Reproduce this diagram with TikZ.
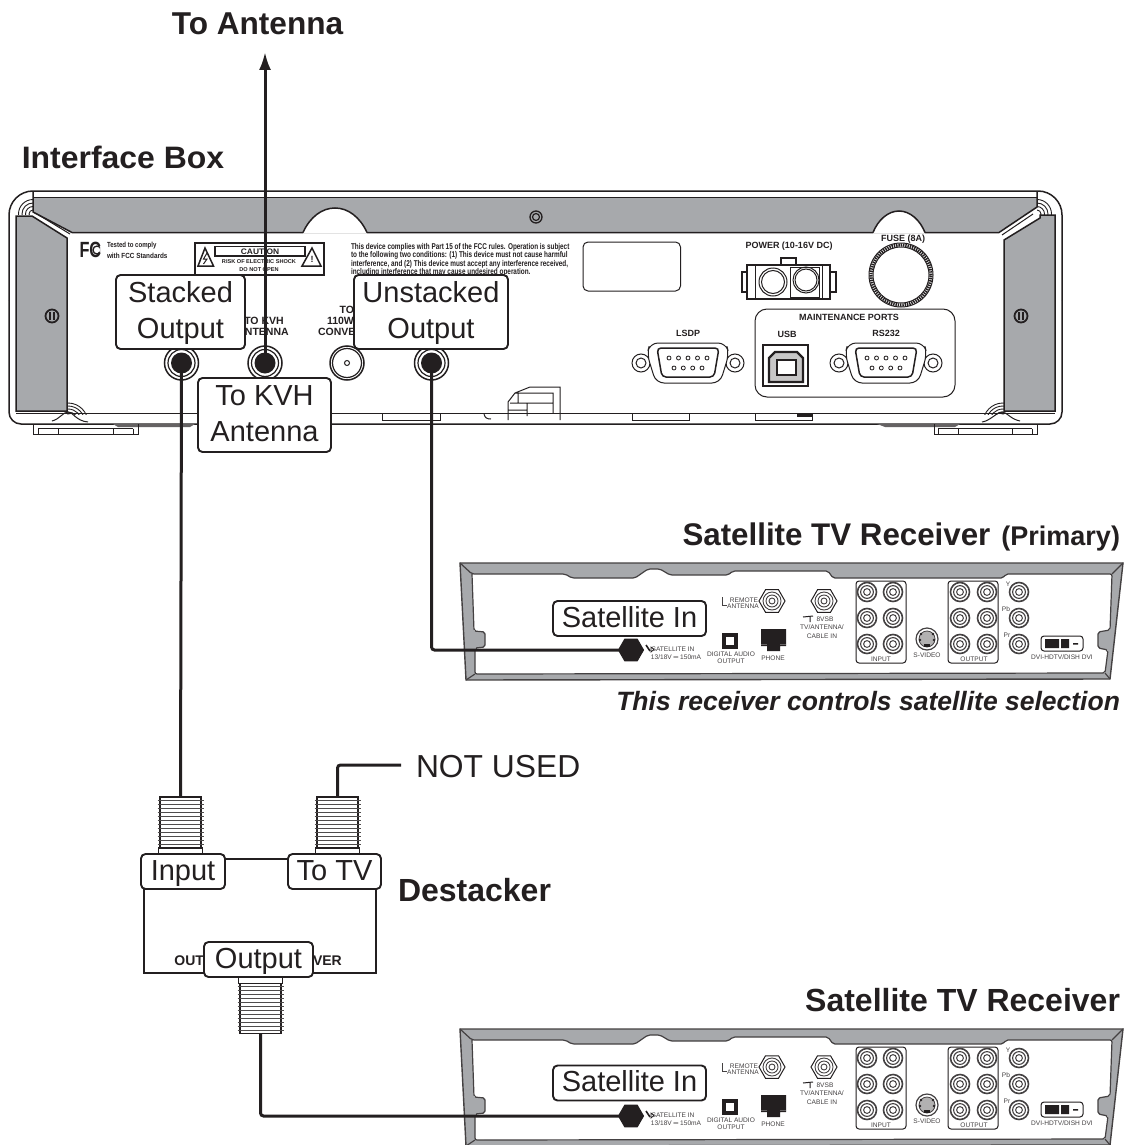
\documentclass[tikz,border=0pt]{standalone}
\usepackage{fontspec}
\usepackage{graphicx}
\setmainfont{Liberation Sans}
\usetikzlibrary{arrows.meta,shapes.geometric}
\definecolor{ink}{HTML}{231F20}
\definecolor{band}{HTML}{A7A9AC}
\newcommand\fs[1]{\fontsize{#1}{#1}\selectfont}
\newcommand\nrw[1]{\scalebox{.76}[1]{#1}}
\newcommand\lowr[1]{\raisebox{-1.5pt}[\height][\depth]{\begin{tabular}{@{}c@{}}#1\end{tabular}}}
\tikzset{
 x=1pt,y=-1pt,
 every node/.style={text=ink,inner sep=0pt,outer sep=0pt},
 wire/.style={draw=ink,line width=3pt},
 thin line/.style={draw=ink,line width=1pt},
 mid line/.style={draw=ink,line width=1.5pt},
 lbl/.style={draw=ink,fill=white,line width=1.9pt,rounded corners=4.5pt,align=center,
   font=\fontsize{29}{35.7}\selectfont},
 lbl one/.style={lbl,text height=23pt,text depth=6pt},
 tiny/.style={font=\fontsize{6.6}{7}\selectfont,text=ink!85},
 panel/.style={font=\fontsize{8.4}{9}\selectfont\bfseries},
 captxt/.style={font=\fontsize{9}{9}\selectfont\bfseries},
 jackcap/.style={font=\fontsize{10.5}{10.5}\selectfont\bfseries},
 port/.style={circle,draw=ink,line width=1.5pt,fill=white,minimum size=34pt},
 hexport/.style={regular polygon,regular polygon sides=6,draw=ink,line width=1pt,fill=white,minimum size=#1},
 thread/.style={rectangle,draw=ink,line width=1.5pt,fill=white,minimum width=41pt,minimum height=51pt},
 collar/.style={rectangle,draw=ink,line width=1.5pt,fill=white,minimum width=44pt,minimum height=7pt},
}
% concentric RCA jack
\newcommand\rcaj[2]{%
 \draw[ink!85,line width=1.6pt] (#1,#2) circle (9.5pt);
 \draw[ink!85,line width=1.1pt] (#1,#2) circle (6.4pt);
 \draw[ink!85,line width=1pt] (#1,#2) circle (3.4pt);}
% D-sub 9 connector
\newcommand\dbnine[3]{%
 \begin{scope}[shift={(#1,#2)}]
 \draw[thin line,fill=white] (-47,0) circle (9pt);
 \draw[thin line,fill=white] (47,0) circle (9pt);
 \draw[thin line] (-47,0) circle (5pt);
 \draw[thin line] (47,0) circle (5pt);
 \draw[thin line,fill=white,rounded corners=8pt] (-38,-20) -- (38,-20) -- (41,-9) -- (32,20) -- (-32,20) -- (-41,-9) -- cycle;
 \draw[mid line,rounded corners=4pt] (-31,-15) -- (31,-15) -- (26,14) -- (-26,14) -- cycle;
 \foreach \p in {-19,-9.5,0,9.5,19}{\draw[line width=.8pt,ink] (\p,-5) circle (2pt);}
 \foreach \p in {-14,-4.7,4.7,14}{\draw[line width=.8pt,ink] (\p,5) circle (2pt);}
 \node[captxt] (#3) at (0,-29.5) {#3};
 \end{scope}}
% threaded F connector body
\newcommand\threads[3]{%
 \foreach \k in {0,...,11}{\draw[ink!80,line width=.8pt] (#1-23,#2+3+\k*4) -- (#1+23,#2+3+\k*4);}}
% satellite receiver back panel
\newcommand\rcvr[2]{%
 \begin{scope}[shift={(0,#1)}]
 \fill[band,even odd rule] (460,563) -- (1123,563) -- (1110,679) -- (466,680) -- cycle
  (472,574) -- (565,574) -- (572,578) -- (635,578) -- (648,569) -- (660,569) -- (670,575) -- (728,575) -- (733,571) -- (828,571) -- (833,578) -- (1003,578) -- (1006,574) -- (1112,574) -- (1110,630) -- (1098,632) -- (1098,648) -- (1108,650) -- (1105,673) -- (475,674) -- (475,648) -- (485,647) -- (485,632) -- (474,631) -- cycle;
 \draw[ink!85,line width=1.4pt] (460,563) -- (1123,563) -- (1110,679) -- (466,680) -- cycle;
 \draw[ink!85,line width=1.2pt,rounded corners=2pt] (460,563) -- (472,574) -- (565,574) -- (572,578) -- (635,578) -- (648,569) -- (660,569) -- (670,575) -- (728,575) -- (733,571) -- (828,571) -- (833,578) -- (1003,578) -- (1006,574) -- (1112,574) -- (1110,630) -- (1098,632) -- (1098,648) -- (1108,650) -- (1105,673) -- (475,674) -- (475,648) -- (485,647) -- (485,632) -- (474,631) -- (472,574);
 \draw[ink!85,line width=1.2pt] (1112,574) -- (1123,563) (1105,673) -- (1110,679) (475,674) -- (466,680);
 % coax hexes
 \node[hexport=26pt,fill=white] (rem#2) at (772,601) {};
 \node[hexport=26pt,fill=white] (vsb#2) at (824,601) {};
 \foreach \c in {772,824}{\foreach \r in {9,6,3}{\draw[ink!85,line width=.9pt] (\c,601) circle (\r pt);}}
 \node[hexport=25pt,fill=ink] (sat#2) at (631,650) {};
 \node[tiny] (a#2) at (673,649) {SATELLITE IN};
 \node[tiny] (b#2) at (676,657) {13/18V ═ 150mA};
 \draw[ink,line width=1.6pt] (646,645) -- (650,651);
 \draw[ink,line width=.7pt] (651,647) -- (654,649.5) -- (651,652) -- cycle;
 \node[tiny] (c#2) at (744,600) {REMOTE};
 \node[tiny] (d#2) at (743,606.5) {ANTENNA};
 \draw[ink!85,line width=.8pt] (722,597) -- (722,605) -- (727,605);
 \node[tiny] (e#2) at (825,619) {8VSB};
 \node[tiny] (f#2) at (822,627.5) {TV/ANTENNA/};
 \node[tiny] (g#2) at (822,636) {CABLE IN};
 \draw[ink,line width=1pt] (803,617) -- (813,616) (810,616) -- (810,622);
 \fill[ink] (722,633) rectangle (738,649);
 \fill[white] (726,637) rectangle (734,645);
 \node[tiny] (h#2) at (731,654.5) {DIGITAL AUDIO};
 \node[tiny] (i#2) at (731,661) {OUTPUT};
 \fill[ink] (761,629) -- (786,629) -- (786,646) -- (780,646) -- (780,651) -- (767,651) -- (767,646) -- (761,646) -- cycle;
 \draw[ink!70,line width=.7pt] (761,644) -- (767,644) (780,644) -- (786,644);
 \node[tiny] (j#2) at (773,658) {PHONE};
 % RCA groups
 \draw[thin line,rounded corners=3pt] (856,581) rectangle (906,663);
 \draw[thin line,rounded corners=3pt] (948,581) rectangle (998,663);
 \foreach \r in {592,618,644}{\rcaj{867}{\r}\rcaj{893}{\r}\rcaj{960}{\r}\rcaj{987}{\r}\rcaj{1019}{\r}}
 \node[tiny] (k#2) at (881,659) {INPUT};
 \node[tiny] (l#2) at (974,659) {OUTPUT};
 \node[tiny] (m#2) at (1008,584) {Y};
 \node[tiny] (n#2) at (1006,609) {Pb};
 \node[tiny] (o#2) at (1007,635) {Pr};
 \draw[ink!85,line width=1.2pt,fill=white] (927,639) circle (11pt);
 \draw[ink!85,line width=.8pt,fill=ink!35] (927,639) circle (8pt);
 \fill[ink] (924,644) rectangle (930,647);
 \fill[ink] (921,634) circle (1.3pt) (933,634) circle (1.3pt) (920,640) circle (1.3pt) (934,640) circle (1.3pt);
 \node[tiny] (p#2) at (927,655) {S-VIDEO};
 \draw[ink,line width=1pt,rounded corners=3pt] (1041,636) rectangle (1083,651);
 \fill[ink] (1045,639) rectangle (1059,648) (1061,639) rectangle (1069,648) (1073,643) rectangle (1078,644.5);
 \node[tiny] (q#2) at (1062,657) {DVI-HDTV/DISH DVI};
 \end{scope}}
\begin{document}
\begin{tikzpicture}
\useasboundingbox (0,0) rectangle (1125,1145);
\fill[white] (0,0) rectangle (1125,1145);

%% ---------- Interface box ----------
\draw[mid line,rounded corners=24pt] (9,300) -- (9,191) -- (535,191) -- (1062,191) -- (1062,300);
\draw[mid line,rounded corners=12pt] (1062,300) -- (1062,424) -- (535,424) -- (9,424) -- (9,300);
\fill[band] (33,197.5) -- (1037,197.5) -- (1037,207) -- (999,232.5) -- (72,232.5) -- (33,212) -- cycle;
\draw[mid line] (33,191) -- (33,212) -- (72,232.5) -- (999,232.5) -- (1037,207) -- (1037,191);
\draw[mid line] (33,197.5) -- (1037,197.5);
\fill[white] (367,233.5) .. controls (360,217) and (348,208) .. (335,208) .. controls (322,208) and (310,217) .. (303,233.5) -- cycle;
\fill[white] (925,233.5) .. controls (920,220) and (910,211) .. (899,211) .. controls (888,211) and (878,220) .. (873,233.5) -- cycle;
\draw[mid line] (303,232.5) .. controls (310,217) and (322,208) .. (335,208) .. controls (348,208) and (360,217) .. (367,232.5);
\draw[mid line] (873,232.5) .. controls (878,220) and (888,211) .. (899,211) .. controls (910,211) and (920,220) .. (925,232.5);
% side panels
\draw[mid line,fill=band] (16,216) -- (32,216) -- (67,238) -- (67,411) -- (16,411) -- cycle;
\draw[mid line,fill=band] (1004,240) -- (1040,218) -- (1040,215) -- (1055,215) -- (1055,411) -- (1004,411) -- cycle;
\draw[thin line] (37,214) -- (70,234) (1033,214) -- (1002,235);
% corner fans
\begin{scope}\clip (16,198) rectangle (33,214);
 \foreach \r in {4,7.5,11,14.5}{\draw[ink,line width=.9pt] (33,214) circle (\r pt);}
\end{scope}
\begin{scope}\clip (1037,198) rectangle (1054,214);
 \foreach \r in {4,7.5,11,14.5}{\draw[ink,line width=.9pt] (1037,214) circle (\r pt);}
\end{scope}
\begin{scope}\clip (67,400) rectangle (92,414);
 \foreach \r in {8,11,14,17,20}{\draw[ink,line width=.9pt] (68,423) circle (\r pt);}
\end{scope}
\begin{scope}\clip (980,400) rectangle (1004,414);
 \foreach \r in {8,11,14,17,20}{\draw[ink,line width=.9pt] (1003,423) circle (\r pt);}
\end{scope}
\draw[thin line] (52,421) .. controls (60,419) and (63,412) .. (68,412) .. controls (73,412) and (76,421) .. (88,422);
\draw[thin line] (982,422) .. controls (990,421) and (997,412) .. (1002,412) .. controls (1007,412) and (1010,419) .. (1020,421);
% bottom rail
\draw[mid line] (16,413.5) -- (1055,413.5);
\draw[thin line] (382,414) -- (382,420) -- (440,420) -- (440,414);
\draw[thin line] (632,414) -- (632,420) -- (689,420) -- (689,414);
\draw[thin line] (755,414) -- (755,420) -- (812,420) -- (812,414);
\draw[thin line] (484,414) .. controls (485,418) and (487,419) .. (491,419);
\fill[ink] (797,414) rectangle (812,417);
\fill[ink!70] (113,424) -- (195,424) -- (190,427) -- (118,427) -- cycle;
\fill[ink!70] (877,424) -- (960,424) -- (955,427) -- (885,427) -- cycle;
% feet
\draw[thin line] (33,424) -- (33,434) -- (138,434) -- (138,424);
\draw[thin line] (38,428.5) -- (133,428.5) (38,428.5) -- (38,434) (58,428.5) -- (58,434) (113,428.5) -- (113,434) (133,428.5) -- (133,434);
\draw[thin line] (934,424) -- (934,434) -- (1037,434) -- (1037,424);
\draw[thin line] (938,428.5) -- (1032,428.5) (938,428.5) -- (938,434) (958,428.5) -- (958,434) (1012,428.5) -- (1012,434) (1032,428.5) -- (1032,434);
% screws
\draw[ink,line width=1.3pt] (536,217) circle (6pt);
\draw[ink,line width=1.2pt] (536,217) circle (3.5pt);
\foreach \c in {52,1021}{
 \draw[ink,line width=1.8pt,fill=band] (\c,316) circle (6.5pt);
 \draw[ink,line width=1.2pt] (\c-2,312) -- (\c-2,320) (\c+2,312) -- (\c+2,320);
}
% FCC mark and text
\node[font=\fs{22}\bfseries,anchor=west] (fcc) at (79.5,250) {\scalebox{.74}[1]{FC}};
\begin{scope}\clip (90,240) rectangle (100,260);
 \draw[ink,line width=1.3pt] (97,250) circle (4pt);
\end{scope}
\node[font=\fs{7.4}\bfseries,anchor=west] (fa) at (107,246) {\scalebox{.82}[1]{Tested to comply}};
\node[font=\fs{7.4}\bfseries,anchor=west] (fb) at (107,255.5) {\scalebox{.86}[1]{with FCC Standards}};
\draw[mid line] (195,243) rectangle (324,275);
\draw[mid line] (215,246.5) rectangle (305,256);
\draw[mid line] (205,248) -- (213.5,266) -- (198,266) -- cycle;
\draw[mid line] (312,248) -- (321,266) -- (302,266) -- cycle;
\draw[ink,line width=1pt] (207,253) -- (203.5,259) -- (207,259) -- (203.5,264);
\node[font=\fs{9}\bfseries] (tw) at (312,259) {!};
\node[font=\fs{8}\bfseries] (cau) at (260,251.5) {\scalebox{1.05}[1]{CAUTION}};
\node[font=\fs{5.6}\bfseries] (cb) at (259,262) {RISK OF ELECTRIC SHOCK};
\node[font=\fs{5.6}\bfseries] (cc) at (259,269.5) {DO NOT OPEN};
\foreach \n/\y/\t in {pa/247/This device complies with Part 15 of the FCC rules. Operation is subject,
 pb/255.5/to the following two conditions: (1) This device must not cause harmful,
 pc/264/{interference, and (2) This device must accept any interference received,},
 pd/272.5/including interference that may cause undesired operation.}{
 \node[panel,anchor=west] (\n) at (351,\y) {\nrw{\t}};
}
% blank plate, power, fuse
\draw[thin line,rounded corners=5pt] (583,242) rectangle (680.5,291);
\node[captxt] (pwr) at (789,246) {POWER (10-16V DC)};
\draw[mid line,fill=white] (781,258) rectangle (796,265);
\draw[mid line,fill=white] (742,272) rectangle (748,292);
\draw[mid line,fill=white] (829,272) rectangle (836,292);
\draw[mid line,fill=white] (747,265) rectangle (830,299);
\draw[thin line] (755,265) -- (755,299) (822,265) -- (822,299);
\draw[thin line] (773,282) circle (14pt);
\draw[thin line] (773,282) circle (11.5pt);
\draw[thin line] (790,267) rectangle (819,297);
\draw[thin line] (806,280) circle (13pt);
\draw[thin line] (806,280) circle (11pt);
\node[captxt] (fus) at (903,239) {FUSE (8A)};
\draw[ink,line width=3.2pt,dash pattern=on 1.4pt off .9pt] (901,275) circle (30pt);
\draw[thin line] (901,275) circle (28pt);
\draw[thin line] (901,275) circle (32pt);
% maintenance
\draw[thin line,rounded corners=12pt] (755,309) rectangle (955,397);
\node[captxt] (mnt) at (849,317.5) {MAINTENANCE PORTS};
\node[captxt] (usbt) at (787,334) {USB};
\fill[ink] (762,344) rectangle (809,387);
\fill[white] (764,346) rectangle (807,385);
\draw[ink,line width=2.4pt,fill=ink!25] (769,358) -- (775,352) -- (797,352) -- (803,358) -- (803,382) -- (769,382) -- cycle;
\fill[white] (777,360) rectangle (796,375);
\draw[ink,line width=1.2pt] (777,360) rectangle (796,375);
\dbnine{688}{363}{LSDP}
\dbnine{886}{363}{RS232}
% latch detail
\draw[thin line] (508,420) -- (508,402) -- (515,393) -- (530,387) -- (560,387) -- (560,420)
 (518,393) -- (518,403) (515,393) -- (553,393) -- (553,413) (510,403) -- (553,403) (508,410) -- (527,410) (527,403) -- (527,416);
% jack captions
\node[jackcap] (kv1) at (264,321) {TO KVH};
\node[jackcap] (kv2) at (263,332) {ANTENNA};
\node[jackcap,anchor=east] (cv1) at (354,310) {TO};
\node[jackcap,anchor=west] (cv2) at (327,321) {110W/};
\node[jackcap,anchor=west] (cv3) at (318,332) {CONVE};
% jacks
\node[port] (stk) at (181.5,363) {};
\draw[ink,line width=1.2pt] (stk) circle (13.5pt);
\fill[ink] (stk) circle (10.5pt);
\node[port] (kvh) at (265,363) {};
\draw[ink,line width=1.2pt] (kvh) circle (13.5pt);
\fill[ink] (kvh) circle (10.5pt);
\node[port] (cvt) at (347,363) {};
\draw[ink,line width=1.2pt] (cvt) circle (14.5pt);
\draw[ink,line width=1pt] (cvt) circle (2.5pt);
\node[port] (uns) at (431.5,363) {};
\draw[ink,line width=1.2pt] (uns) circle (13.5pt);
\fill[ink] (uns) circle (10.5pt);

%% ---------- Receivers ----------
\rcvr{0}{A}
\rcvr{466}{B}

%% ---------- Destacker ----------
\node[thread] (thrI) at (180.5,822.5) {};
\threads{180.5}{797}{51}
\node[collar] (colI) at (180.5,851.5) {};
\node[thread] (thrT) at (337.5,822.5) {};
\threads{337.5}{797}{51}
\node[collar] (colT) at (337.5,851.5) {};
\node[thread] (thrO) at (260.5,1008) {};
\threads{260.5}{983}{51}
\node[collar] (colO) at (260.5,980) {};
\draw[mid line] (144,885) -- (144,973) -- (376,973) -- (376,885);
\node[font=\fs{14}\bfseries,anchor=east] (oa) at (204,960.5) {OUT};
\node[font=\fs{14}\bfseries,anchor=west] (ob) at (313,960.5) {VER};

%% ---------- Wires ----------
\coordinate (ant) at (265,52);
\coordinate (nu) at (401,765);
\draw[wire,-{Latex[length=18pt,width=12pt]}] (kvh.center) -- (ant);
\draw[wire] (stk.center) -- (thrI.north);
\draw[wire,rounded corners=3pt] (uns.center) |- (satA.center);
\draw[wire,rounded corners=3pt] (thrT.north) |- (nu);
\draw[wire,rounded corners=3pt] (thrO.south) |- (satB.center);

%% ---------- Labels ----------
\node[lbl,minimum width=129pt,minimum height=74pt] (lS) at (180.5,312) {\lowr{Stacked\\Output}};
\node[lbl,minimum width=154pt,minimum height=74pt] (lU) at (431,312) {\lowr{Unstacked\\Output}};
\node[lbl,minimum width=133pt,minimum height=74pt] (lK) at (264.5,415) {\lowr{To KVH\\Antenna}};
\node[lbl one,minimum width=153pt,minimum height=35pt] (lA) at (629.5,618.5) {Satellite In};
\node[lbl one,minimum width=153pt,minimum height=35pt] (lB) at (629.5,1083) {Satellite In};
\node[lbl one,minimum width=84pt,minimum height=35pt] (lI) at (183,871.5) {Input};
\node[lbl one,minimum width=93pt,minimum height=35pt] (lT) at (334.5,871.5) {To TV};
\node[lbl one,minimum width=109pt,minimum height=35pt] (lO) at (258.5,959.5) {Output};
\draw[mid line] (lI.east |- 0,859) -- (lT.west |- 0,859);

%% ---------- Headings ----------
\node[font=\fs{31.6}\bfseries] (hA) at (257.5,24) {To Antenna};
\node[font=\fs{31}\bfseries] (hI) at (123,157) {\scalebox{1.03}[1]{Interface Box}};
\node[font=\fs{31.3}\bfseries,anchor=base east] (hP) at (1120,545) {Satellite TV Receiver\hspace{11pt}{\fs{27}(Primary)}};
\node[font=\fs{26.5}\bfseries\itshape,anchor=base east] (hC) at (1120,710) {This receiver controls satellite selection};
\node[font=\fs{31.8},anchor=west] (hN) at (416,767) {NOT USED};
\node[font=\fs{32}\bfseries,anchor=west] (hD) at (398,890) {Destacker};
\node[font=\fs{32}\bfseries,anchor=base east] (hS) at (1120,1011) {Satellite TV Receiver};
\end{tikzpicture}
\end{document}
